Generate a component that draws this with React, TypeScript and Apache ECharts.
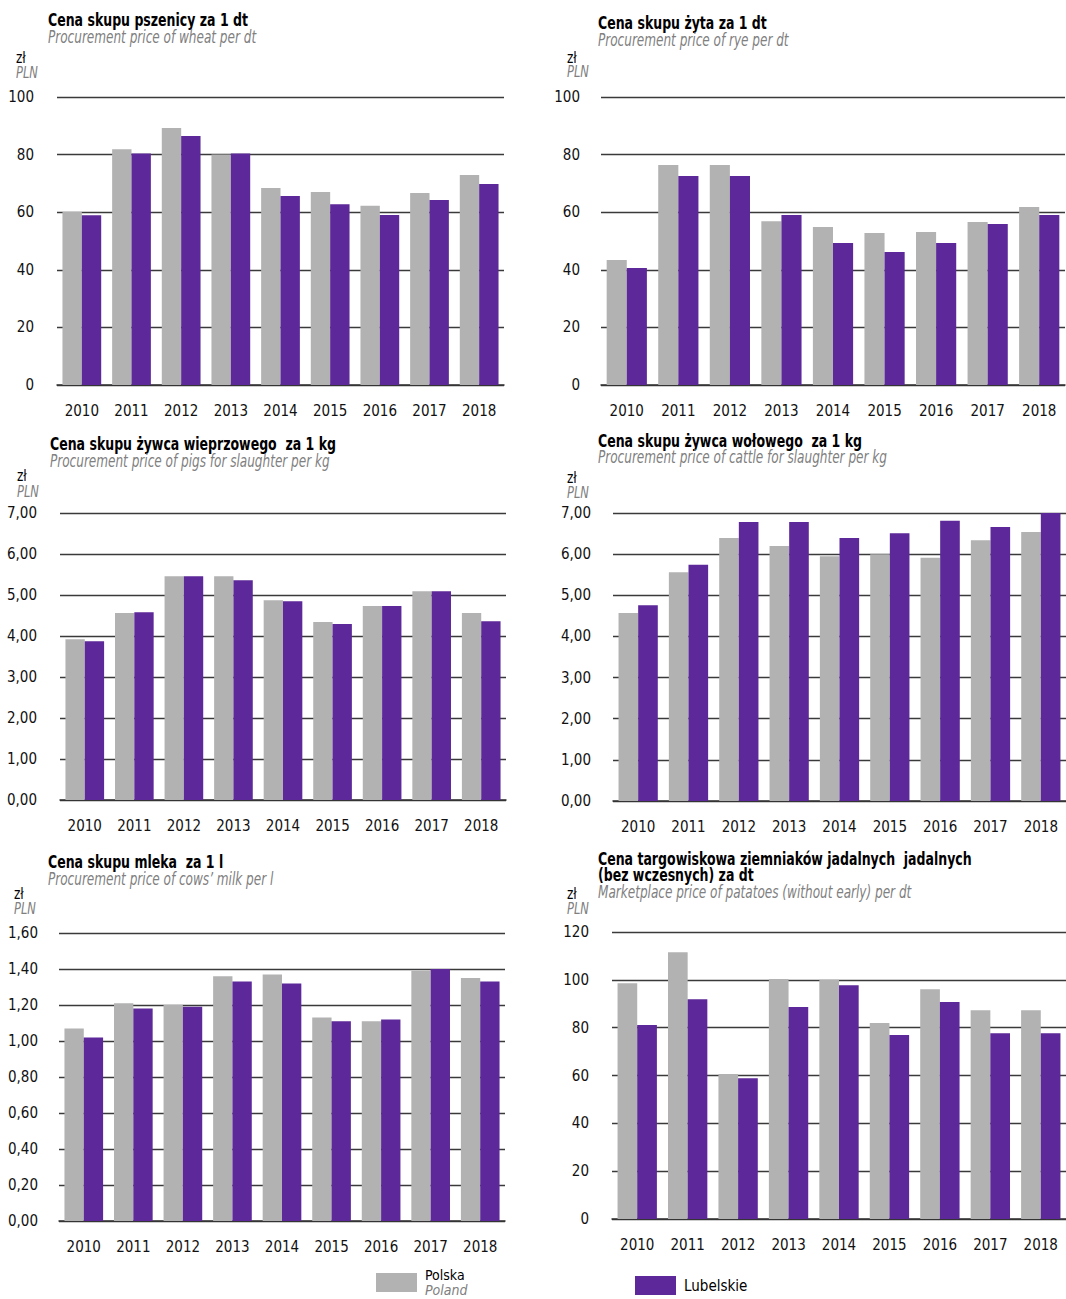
import React, { useEffect, useRef } from "react";
import * as echarts from "echarts";

const years = ["2010", "2011", "2012", "2013", "2014", "2015", "2016", "2017", "2018"];
const wheatPL = [60.1, 81.9, 89.2, 80.0, 68.4, 67.0, 62.2, 66.7, 72.9];
const wheatLU = [58.9, 80.4, 86.5, 80.4, 65.6, 62.8, 59.0, 64.2, 69.8];
const ryePL = [43.4, 76.4, 76.4, 56.9, 54.9, 52.8, 53.1, 56.6, 61.8];
const ryeLU = [40.6, 72.6, 72.6, 59.0, 49.3, 46.2, 49.3, 55.9, 59.0];
const pigsPL = [3.92, 4.56, 5.46, 5.46, 4.87, 4.34, 4.73, 5.09, 4.56];
const pigsLU = [3.87, 4.58, 5.46, 5.36, 4.85, 4.29, 4.73, 5.09, 4.36];
const cattlePL = [4.57, 5.56, 6.39, 6.2, 5.95, 6.0, 5.91, 6.34, 6.54];
const cattleLU = [4.76, 5.74, 6.78, 6.78, 6.39, 6.51, 6.81, 6.66, 7.0];
const milkPL = [1.07, 1.21, 1.2, 1.36, 1.37, 1.13, 1.11, 1.39, 1.35];
const milkLU = [1.02, 1.18, 1.19, 1.33, 1.32, 1.11, 1.12, 1.4, 1.33];
const potatoPL = [98.6, 111.5, 60.6, 100.3, 100.0, 81.9, 96.1, 87.3, 87.3];
const potatoLU = [81.1, 91.9, 58.9, 88.6, 97.7, 76.9, 90.7, 77.7, 77.7];

const titlesPL = [
  "Cena skupu pszenicy za 1 dt",
  "Cena skupu żyta za 1 dt",
  "Cena skupu żywca wieprzowego  za 1 kg",
  "Cena skupu żywca wołowego  za 1 kg",
  "Cena skupu mleka  za 1 l",
  "Cena targowiskowa ziemniaków jadalnych  jadalnych\n(bez wczesnych) za dt",
];
const titlesEN = [
  "Procurement price of wheat per dt",
  "Procurement price of rye per dt",
  "Procurement price of pigs for slaughter per kg",
  "Procurement price of cattle for slaughter per kg",
  "Procurement price of cows’ milk per l",
  "Marketplace price of patatoes (without early) per dt",
];
const yMax = [100, 100, 7, 7, 1.6, 120];
const yStep = [20, 20, 1, 1, 0.2, 20];
const yDecimals = [0, 0, 2, 2, 2, 0];

const FONT = "'DejaVu Sans Condensed', 'DejaVu Sans', sans-serif";
const GRAY = "#b2b2b2";
const PURPLE = "#5d2899";
const SUBGRAY = "#808080";

const grids = [
  { left: 57, top: 97, width: 447, height: 288 },
  { left: 601, top: 97, width: 464, height: 288 },
  { left: 60, top: 513, width: 446, height: 287 },
  { left: 613, top: 513, width: 455, height: 288 },
  { left: 59, top: 933, width: 446, height: 288 },
  { left: 612, top: 932, width: 460, height: 287 },
];
const titlePos = [
  { x: 48, t: 21, s: 37, u: 58, p: 73, ux: 16 },
  { x: 598, t: 24, s: 40, u: 58, p: 72, ux: 567 },
  { x: 50, t: 445, s: 461, u: 476, p: 492, ux: 17 },
  { x: 598, t: 442, s: 457, u: 478, p: 493, ux: 567 },
  { x: 48, t: 863, s: 879, u: 894, p: 909, ux: 14 },
  { x: 598, t: 868, s: 892, u: 894, p: 909, ux: 567 },
];
const labelMargins = [23, 21, 23, 22, 21, 23];

const dataPL = [wheatPL, ryePL, pigsPL, cattlePL, milkPL, potatoPL];
const dataLU = [wheatLU, ryeLU, pigsLU, cattleLU, milkLU, potatoLU];

export default function App() {
  const ref = useRef<HTMLDivElement>(null);
  useEffect(() => {
    if (!ref.current) return;
    const chart = echarts.init(ref.current, null, { renderer: "svg" });
    const graphic: any[] = [];
    titlePos.forEach((tp, i) => {
      graphic.push({
        type: "text",
        x: tp.x,
        y: tp.t,
        scaleX: 0.82,
        style: {
          text: titlesPL[i],
          fontFamily: FONT,
          fontWeight: "bold",
          fontSize: 17,
          lineHeight: 16,
          fill: "#000",
          verticalAlign: "middle",
        },
      });
      graphic.push({
        type: "text",
        x: tp.x,
        y: tp.s,
        scaleX: 0.79,
        style: {
          text: titlesEN[i],
          fontFamily: FONT,
          fontStyle: "italic",
          fontSize: 17,
          fill: SUBGRAY,
          verticalAlign: "middle",
        },
      });
      graphic.push({
        type: "text",
        x: tp.ux,
        y: tp.u,
        scaleX: 0.9,
        style: { text: "zł", fontFamily: FONT, fontSize: 15, fill: "#000", verticalAlign: "middle" },
      });
      graphic.push({
        type: "text",
        x: tp.ux,
        y: tp.p,
        scaleX: 0.85,
        style: {
          text: "PLN",
          fontFamily: FONT,
          fontStyle: "italic",
          fontSize: 15,
          fill: SUBGRAY,
          verticalAlign: "middle",
        },
      });
    });

    const option: any = {
      animation: false,
      backgroundColor: "#fff",
      textStyle: { fontFamily: FONT },
      grid: grids.map((g) => ({ ...g, containLabel: false })),
      xAxis: grids.map((_, i) => ({
        type: "category",
        gridIndex: i,
        data: years,
        axisTick: { show: false },
        axisLine: { lineStyle: { color: "#333", width: 1.5 } },
        axisLabel: { color: "#111", fontSize: 15, fontFamily: FONT, margin: 18, interval: 0 },
      })),
      yAxis: grids.map((_, i) => ({
        type: "value",
        gridIndex: i,
        min: 0,
        max: yMax[i],
        interval: yStep[i],
        axisLine: { show: false },
        axisTick: { show: false },
        splitLine: { lineStyle: { color: "#3a3a3a", width: 1.3 } },
        axisLabel: {
          color: "#111",
          fontSize: 15,
          fontFamily: FONT,
          margin: labelMargins[i],
          formatter: (v: number) => v.toFixed(yDecimals[i]).replace(".", ","),
        },
      })),
      legend: [
        {
          data: ["Polska"],
          left: 376,
          top: 1268,
          padding: 0,
          itemWidth: 41,
          itemHeight: 19,
          itemGap: 0,
          icon: "rect",
          formatter: () => "{a|Polska}\n{b|Poland}",
          textStyle: {
            padding: [0, 0, 0, 3],
            rich: {
              a: { fontFamily: FONT, fontSize: 14, color: "#000", lineHeight: 15 },
              b: { fontFamily: FONT, fontSize: 14, fontStyle: "italic", color: SUBGRAY, lineHeight: 15 },
            },
          },
        },
        {
          data: ["Lubelskie"],
          left: 635,
          top: 1276,
          padding: 0,
          itemWidth: 41,
          itemHeight: 19,
          icon: "rect",
          textStyle: { fontFamily: FONT, fontSize: 15, color: "#000", padding: [0, 0, 0, 3] },
        },
      ],
      graphic,
      series: grids.flatMap((_, i) => [
        {
          name: "Polska",
          type: "bar",
          xAxisIndex: i,
          yAxisIndex: i,
          data: dataPL[i],
          itemStyle: { color: GRAY },
          barGap: "0%",
          barCategoryGap: "22%",
        },
        {
          name: "Lubelskie",
          type: "bar",
          xAxisIndex: i,
          yAxisIndex: i,
          data: dataLU[i],
          itemStyle: { color: PURPLE },
          barGap: "0%",
          barCategoryGap: "22%",
        },
      ]),
    };
    chart.setOption(option);
    return () => chart.dispose();
  }, []);
  return (
    <div
      ref={ref}
      style={{ position: "absolute", left: 0, top: 0, width: 1066, height: 1299, background: "#fff" }}
    />
  );
}
